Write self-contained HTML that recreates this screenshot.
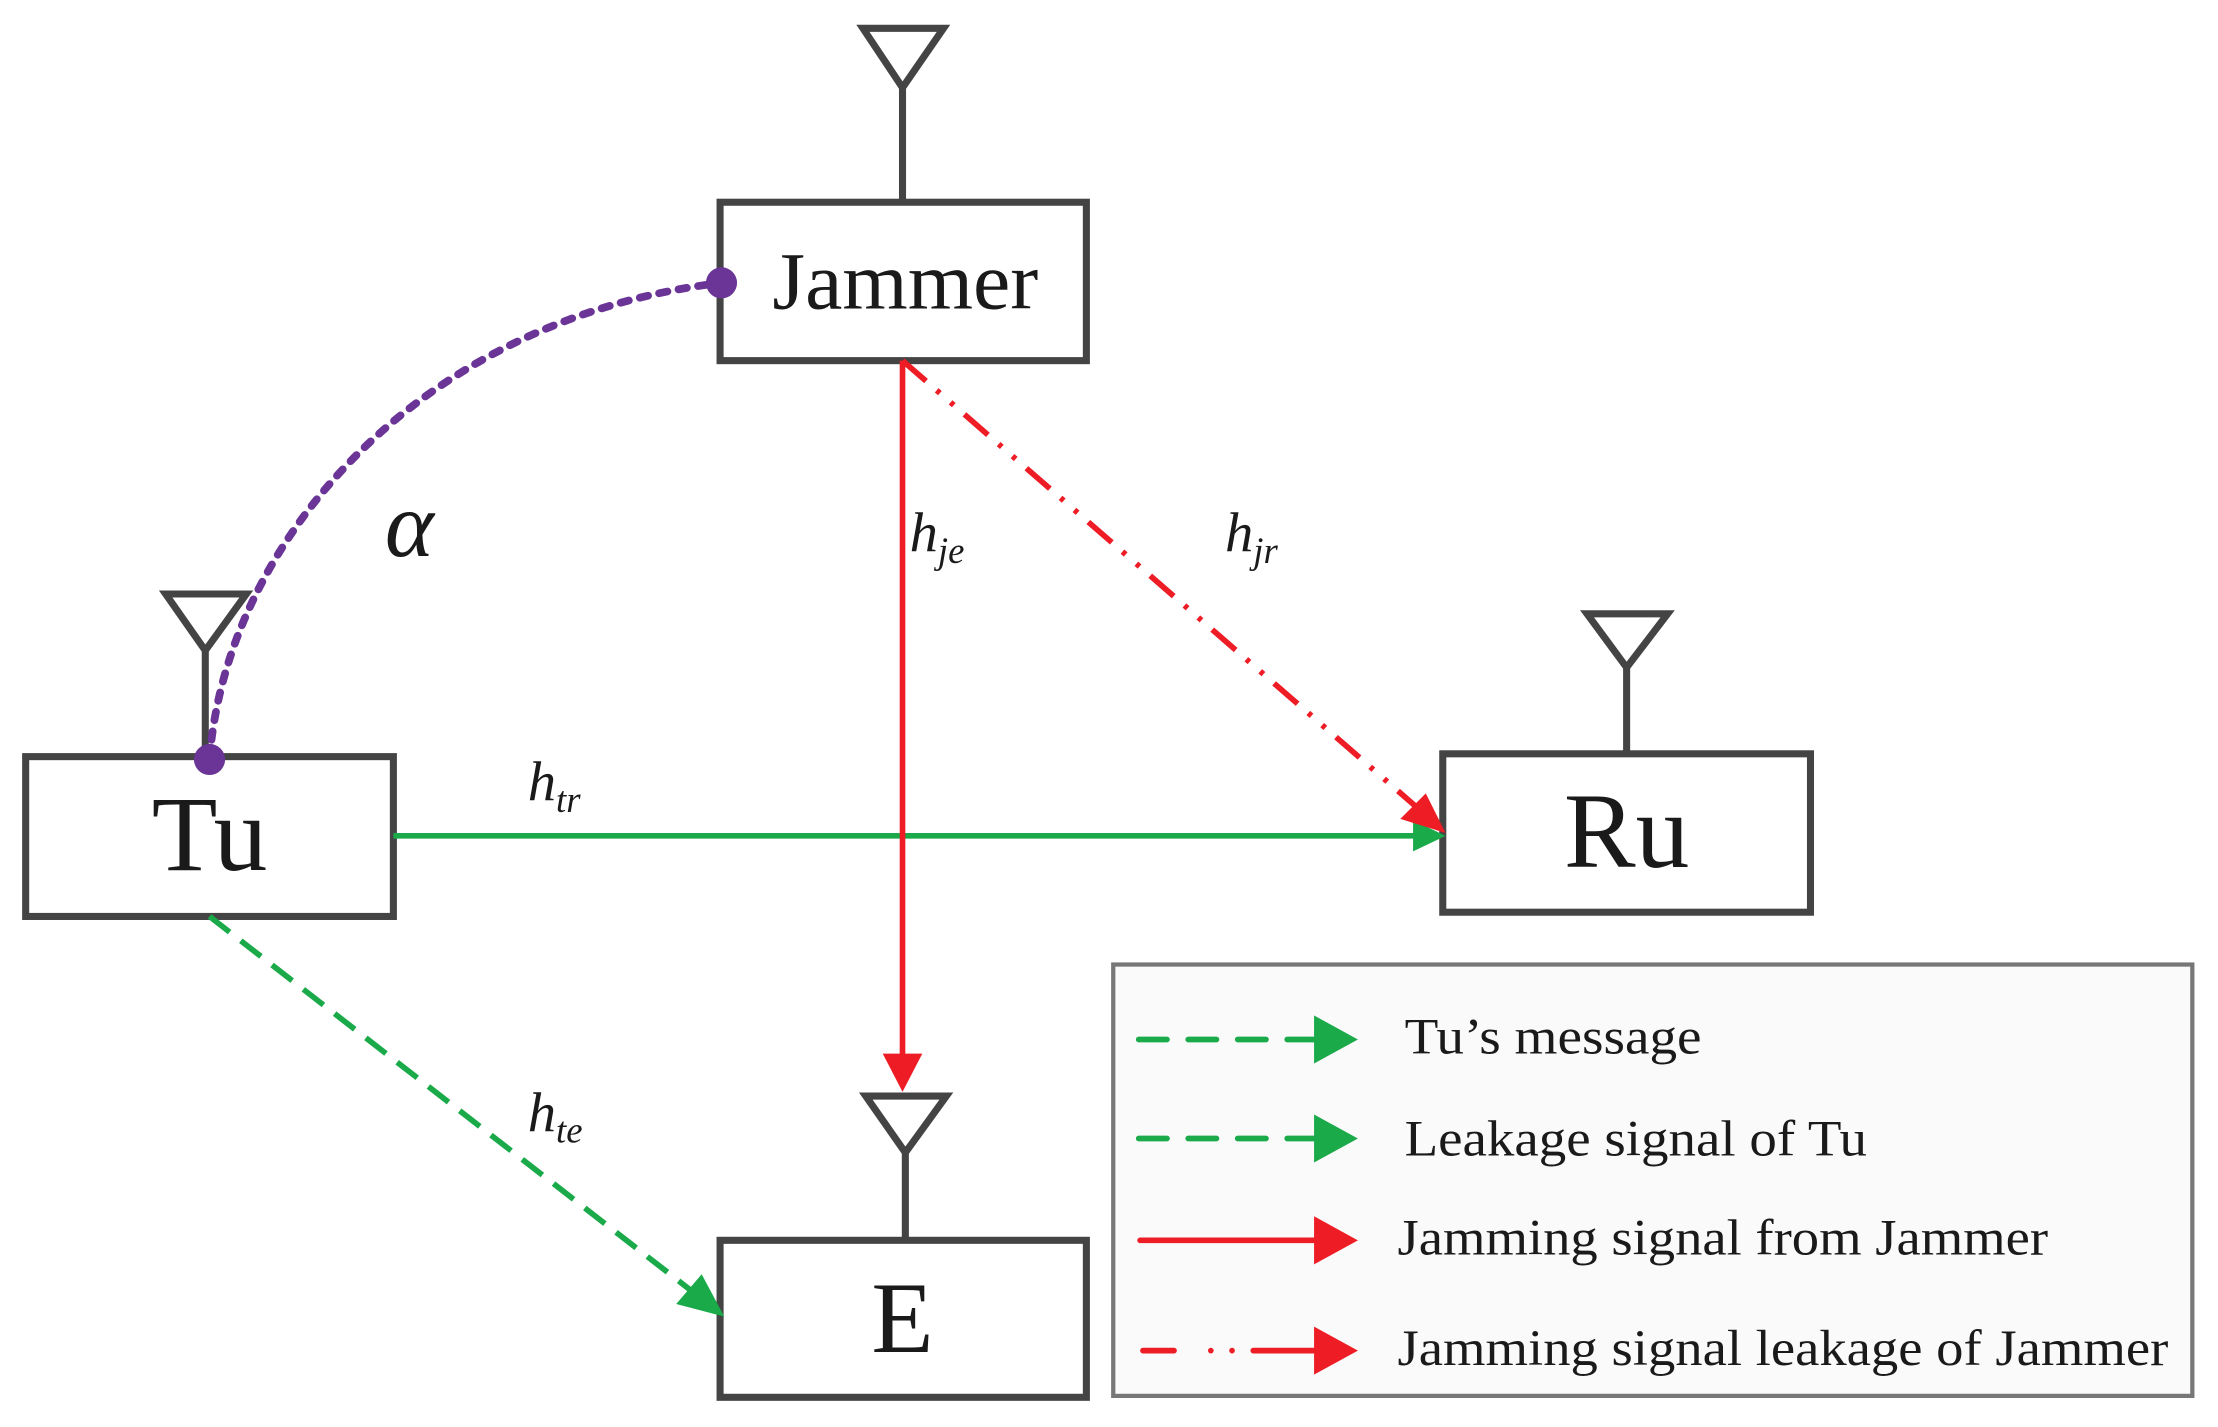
<!DOCTYPE html>
<html><head><meta charset="utf-8"><style>html,body{margin:0;padding:0;background:#fff}svg{display:block}</style></head>
<body>
<svg width="2218" height="1427" viewBox="0 0 1568 1009" xmlns="http://www.w3.org/2000/svg" font-family="Liberation Serif, serif">
<g stroke="#444" stroke-width="5" fill="none">
<path d="M638,143 V62 M610,20 H667 L638,62 Z"/>
<path d="M145,535 V460 M117,420 H174 L145,460 Z"/>
<path d="M1150,533 V472 M1122,434 H1179 L1150,472 Z"/>
<path d="M640,877 V815 M612,775 H669 L640,815 Z"/>
<rect x="509" y="143" width="259" height="112" fill="#fff"/>
<rect x="18" y="535" width="260" height="113" fill="#fff"/>
<rect x="1020" y="533" width="260" height="112" fill="#fff"/>
<rect x="509" y="877" width="259" height="111" fill="#fff"/>
</g>
<rect x="787" y="682" width="763" height="305" fill="#fafafa" stroke="#777" stroke-width="3"/>
<line x1="278" y1="591" x2="1002" y2="591" stroke="#1aaa4a" stroke-width="4"/>
<path d="M999,580 L1022,591 L999,602 Z" fill="#1aaa4a"/>
<line x1="638" y1="255" x2="638" y2="748" stroke="#ee1c25" stroke-width="4"/>
<path d="M624,745 L638,772 L652,745 Z" fill="#ee1c25"/>
<line x1="638" y1="255" x2="1003" y2="572" stroke="#ee1c25" stroke-width="4" stroke-dasharray="22,10,3,10,3,10"/>
<path d="M990,579 L1022,589 L1008,561 Z" fill="#ee1c25"/>
<line x1="148" y1="648" x2="493" y2="916" stroke="#1aaa4a" stroke-width="4" stroke-dasharray="18,10"/>
<path d="M478,922 L512,931 L496,901 Z" fill="#1aaa4a"/>
<path d="M148,537 C160,380 300,225 510,200" stroke="#6a3596" stroke-width="5.5" fill="none" stroke-dasharray="6,8" stroke-linecap="round"/>
<circle cx="148" cy="537" r="11" fill="#6a3596"/>
<circle cx="510" cy="200" r="11" fill="#6a3596"/>
<g fill="#1a1a1a">
<text x="640" y="218" font-size="58" text-anchor="middle" textLength="188" lengthAdjust="spacingAndGlyphs">Jammer</text>
<text x="148" y="615" font-size="76" text-anchor="middle">Tu</text>
<text x="1150" y="613" font-size="76" text-anchor="middle">Ru</text>
<text x="638" y="956" font-size="72" text-anchor="middle">E</text>
<text x="272" y="393" font-size="66" font-style="italic">α</text>
<g font-style="italic">
<text x="643" y="390" font-size="40">h<tspan font-size="26" dy="8">je</tspan></text>
<text x="866" y="390" font-size="40">h<tspan font-size="26" dy="8">jr</tspan></text>
<text x="373" y="566" font-size="40">h<tspan font-size="26" dy="8">tr</tspan></text>
<text x="373" y="800" font-size="40">h<tspan font-size="26" dy="8">te</tspan></text>
</g>
<g font-size="36">
<text x="993" y="745" textLength="210" lengthAdjust="spacingAndGlyphs">Tu’s message</text>
<text x="993" y="817" textLength="327" lengthAdjust="spacingAndGlyphs">Leakage signal of Tu</text>
<text x="988" y="887" textLength="460" lengthAdjust="spacingAndGlyphs">Jamming signal from Jammer</text>
<text x="988" y="965" textLength="545" lengthAdjust="spacingAndGlyphs">Jamming signal leakage of Jammer</text>
</g>
</g>
<g stroke-width="4" stroke-linecap="round">
<path d="M805,735 H938" stroke="#1aaa4a" stroke-dasharray="20,15"/>
<path d="M805,805 H938" stroke="#1aaa4a" stroke-dasharray="20,15"/>
<path d="M806,877 H935" stroke="#ee1c25"/>
<path d="M808,955 H830 M856,955 V955 M871,955 V955 M886,955 H935" stroke="#ee1c25"/>
</g>
<path d="M929,718 L960,735 L929,752 Z" fill="#1aaa4a"/>
<path d="M929,788 L960,805 L929,822 Z" fill="#1aaa4a"/>
<path d="M929,860 L960,877 L929,894 Z" fill="#ee1c25"/>
<path d="M929,938 L960,955 L929,972 Z" fill="#ee1c25"/>
</svg>
</body></html>
